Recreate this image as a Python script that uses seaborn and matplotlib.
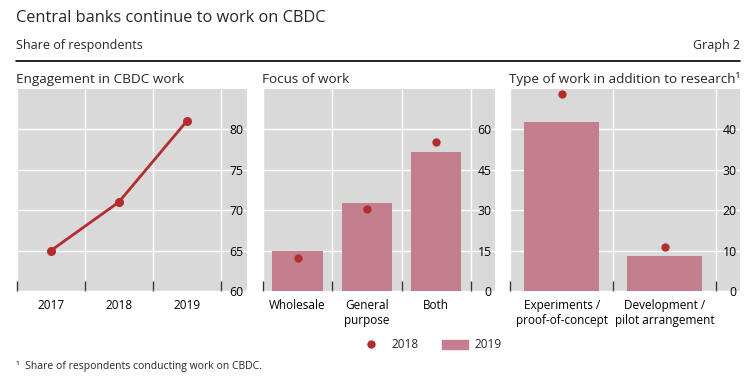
import matplotlib
matplotlib.use("Agg")
import matplotlib.pyplot as plt
import matplotlib.lines as mlines
import matplotlib.patches as mpatches
from matplotlib.ticker import FixedLocator
import seaborn as sns

# data
years = ["2017", "2018", "2019"]
engagement = [65, 71, 81]

focus_cats = ["Wholesale", "General\npurpose", "Both"]
focus_2018 = [12.4, 30.5, 55.4]
focus_2019 = [15, 32.7, 51.6]

type_cats = ["Experiments /\nproof-of-concept", "Development /\npilot arrangement"]
type_2018 = [48.8, 10.9]
type_2019 = [41.9, 8.6]

red = "#B22D2D"
pink = "#C47F8F"
bg = "#D9D9D9"

sns.set_theme(style="white")
plt.rcParams["font.family"] = ["Open Sans", "DejaVu Sans"]

fig = plt.figure(figsize=(7.5, 3.81), dpi=100)
W, H = 750, 381


def add_ax(x0, x1, y0=89, y1=291):
    return fig.add_axes([x0 / W, (H - y1) / H, (x1 - x0) / W, (y1 - y0) / H])


def style(ax, n, xmax, ylim, yticks, title):
    ax.set_facecolor(bg)
    for s in ax.spines.values():
        s.set_visible(False)
    ax.set_xlim(-0.5, xmax)
    ax.set_ylim(*ylim)
    ax.set_xlabel("")
    ax.set_ylabel("")
    ax.xaxis.set_minor_locator(FixedLocator([i + 0.5 for i in range(-1, n)]))
    ax.tick_params(axis="x", which="major", length=0, pad=6, labelsize=8.5,
                   colors="black")
    ax.tick_params(axis="x", which="minor", direction="in", length=7,
                   width=1, color="#333333", bottom=True)
    ax.yaxis.tick_right()
    ax.set_yticks(yticks)
    ax.tick_params(axis="y", length=0, pad=-2.5, labelsize=8.8, colors="black")
    for lab in ax.get_yticklabels():
        lab.set_horizontalalignment("right")
    ax.grid(True, axis="y", color="white", linewidth=1)
    ax.grid(True, axis="x", which="minor", color="white", linewidth=1)
    ax.set_axisbelow(True)
    ax.set_title(title, loc="left", fontsize=9.7, pad=4, x=-0.003)


# panel 1: line
ax1 = add_ax(17, 247)
sns.pointplot(x=years, y=engagement, ax=ax1, color=red, markers="o",
              markersize=5, linewidth=2)
style(ax1, 3, 2.89, (60, 85), [60, 65, 70, 75, 80], "Engagement in CBDC work")

# panel 2: bars + dots
ax2 = add_ax(263, 495)
sns.barplot(x=focus_cats, y=focus_2019, ax=ax2, color=pink, width=0.73,
            saturation=1, linewidth=0, edgecolor=pink)
sns.stripplot(x=focus_cats, y=focus_2018, ax=ax2, color=red, jitter=False,
              size=6, zorder=5)
style(ax2, 3, 2.85, (0, 75), [0, 15, 30, 45, 60], "Focus of work")

# panel 3: bars + dots
ax3 = add_ax(510, 740)
sns.barplot(x=type_cats, y=type_2019, ax=ax3, color=pink, width=0.73,
            saturation=1, linewidth=0, edgecolor=pink)
sns.stripplot(x=type_cats, y=type_2018, ax=ax3, color=red, jitter=False,
              size=6, zorder=5)
style(ax3, 2, 1.73, (0, 50), [0, 10, 20, 30, 40],
      "Type of work in addition to research\u00b9")
for c in ax3.collections:
    c.set_clip_on(False)

# header
fig.text(16 / W, 1 - 18 / H, "Central banks continue to work on CBDC",
         fontsize=11.8, va="center", ha="left")
fig.text(16 / W, 1 - 45 / H, "Share of respondents", fontsize=9,
         va="center", ha="left")
fig.text(740 / W, 1 - 45 / H, "Graph 2", fontsize=9, va="center", ha="right")
fig.add_artist(mlines.Line2D([16 / W, 740 / W], [1 - 61 / H, 1 - 61 / H],
                             color="black", linewidth=1.2))

# legend
handles = [
    mlines.Line2D([], [], color=red, marker="o", linestyle="none",
                  markersize=5, label="2018"),
    mpatches.Patch(color=pink, label="2019"),
]
fig.legend(handles=handles, loc="center", bbox_to_anchor=(430 / W, 1 - 345 / H),
           ncol=2, frameon=False, fontsize=8.5, handlelength=2.2,
           columnspacing=2.0, handletextpad=0.6)

# footnote
fig.text(16 / W, 1 - 367 / H,
         "\u00b9  Share of respondents conducting work on CBDC.",
         fontsize=7.5, va="center", ha="left")

fig.savefig("out.png", dpi=100)
